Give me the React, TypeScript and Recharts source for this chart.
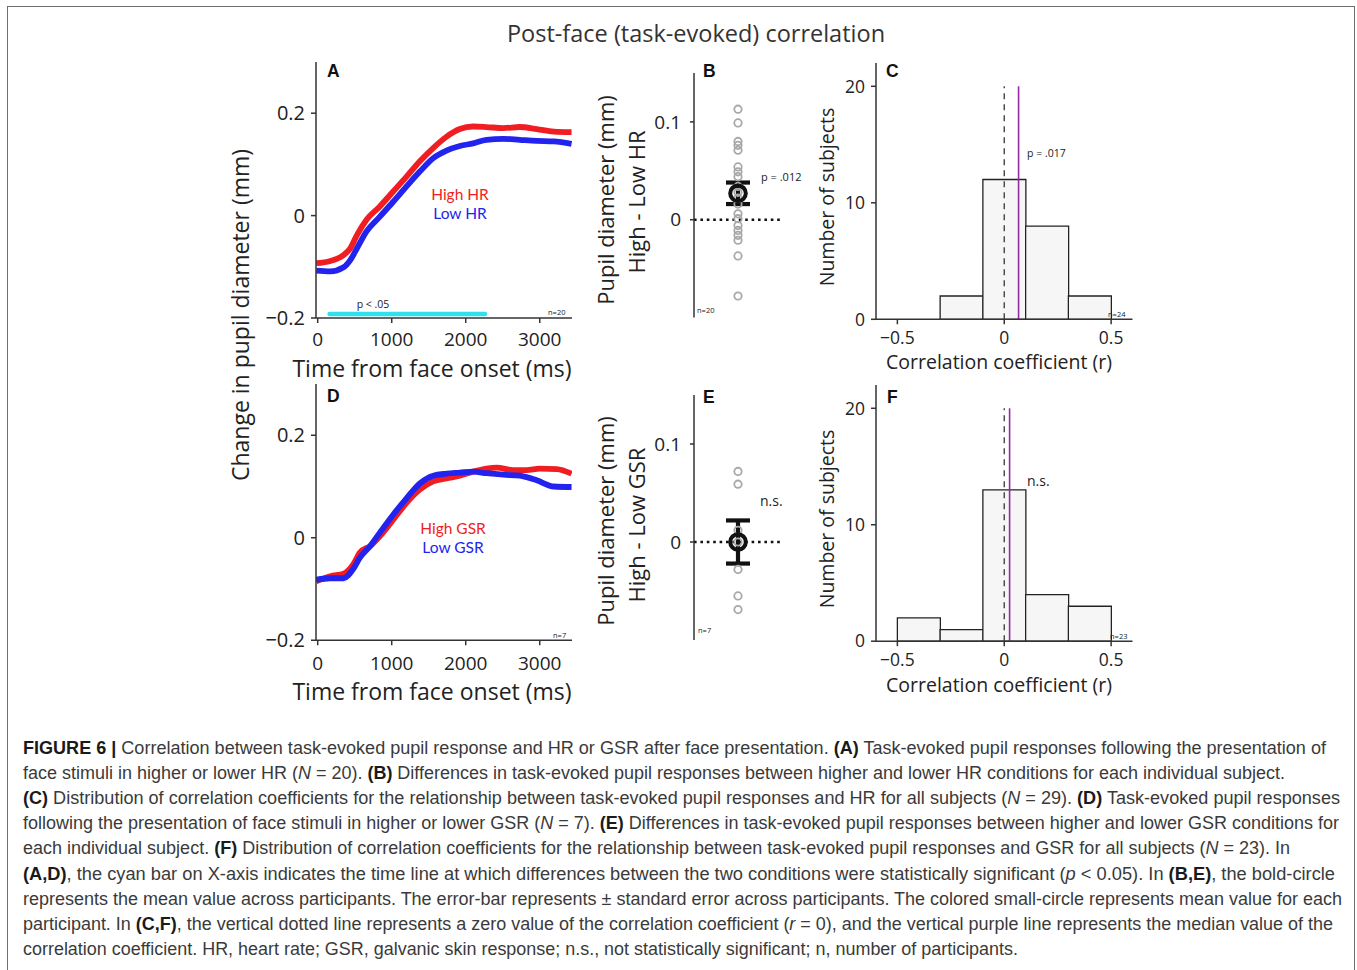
import React from 'react';
import {
  LineChart, Line, XAxis, YAxis, ReferenceLine,
  ScatterChart, Scatter, ErrorBar, BarChart, Bar,
} from 'recharts';

// ---------------- data ----------------
// Panel A: pupil change (mm) vs time (ms), HR split
const hrHighTime = [-20, 170, 350, 440, 530, 660, 840, 1020, 1200, 1380, 1560, 1740, 1920, 2100, 2280, 2510, 2730, 2960, 3190, 3430];
const hrHighValue = [-0.093, -0.0886, -0.077, -0.064, -0.038, -0.008, 0.018, 0.047, 0.076, 0.106, 0.132, 0.154, 0.169, 0.174, 0.173, 0.171, 0.173, 0.169, 0.164, 0.163];
const hrLowTime = [-20, 170, 350, 440, 530, 660, 840, 1020, 1200, 1380, 1560, 1740, 1920, 2100, 2280, 2510, 2730, 2960, 3190, 3430];
const hrLowValue = [-0.1075, -0.109, -0.101, -0.087, -0.064, -0.031, -0.002, 0.027, 0.057, 0.086, 0.112, 0.127, 0.136, 0.141, 0.148, 0.15, 0.148, 0.146, 0.145, 0.14];
const sigStart = 160;
const sigEnd = 2260;

// Panel D: GSR split
const gsrHighTime = [-20, 170, 350, 480, 570, 710, 840, 1020, 1200, 1380, 1560, 1740, 1920, 2100, 2280, 2420, 2640, 2820, 3000, 3230, 3430];
const gsrHighValue = [-0.085, -0.075, -0.07, -0.052, -0.029, -0.016, 0.003, 0.035, 0.068, 0.094, 0.11, 0.116, 0.121, 0.129, 0.135, 0.137, 0.132, 0.132, 0.135, 0.134, 0.125];
const gsrLowTime = [-20, 170, 350, 480, 570, 710, 840, 1020, 1200, 1380, 1560, 1740, 1920, 2100, 2280, 2510, 2730, 2960, 3190, 3430];
const gsrLowValue = [-0.082, -0.079, -0.079, -0.061, -0.039, -0.016, 0.01, 0.045, 0.077, 0.106, 0.121, 0.125, 0.127, 0.129, 0.126, 0.123, 0.121, 0.112, 0.1, 0.099];

const timeTicks = [0, 1000, 2000, 3000];
const pupilTicks = [-0.2, 0, 0.2];

// Panel B: individual differences (High - Low HR)
const hrDiffs = [0.113, 0.099, 0.08, 0.076, 0.071, 0.054, 0.049, 0.044, 0.034, 0.028, 0.022, 0.016, 0.006, 0.001, -0.006, -0.011, -0.016, -0.021, -0.037, -0.078];
const hrDiffMean = 0.027;
const hrDiffSe = 0.011;

// Panel E: individual differences (High - Low GSR)
const gsrDiffs = [0.072, 0.059, 0.012, 0.0, -0.028, -0.055, -0.069];
const gsrDiffMean = 0.0;
const gsrDiffSe = 0.022;
const diffTicks = [-0.1, 0, 0.1];

// Panels C / F: histograms of r
const binCenters = [-0.4, -0.2, 0, 0.2, 0.4];
const hrCounts = [0, 2, 12, 8, 2];
const gsrCounts = [2, 1, 13, 4, 3];
const hrMedianR = 0.067;
const gsrMedianR = 0.025;
const rTicks = [-0.5, 0, 0.5];
const countTicks = [0, 10, 20];

// ---------------- helpers ----------------
const FONT = '"Open Sans", "Noto Sans", sans-serif';
const LEG = 'Lato, "Open Sans", sans-serif';
const CAP = '"Liberation Sans", Arial, sans-serif';
const RED = '#f01e23';
const BLUE = '#2323f0';
const PURPLE = '#962aa6';
const AX = '#333';

const fmt = (v: number) => (v < 0 ? '\u2212' + String(Math.abs(v)) : String(v));
const axisStyle = { stroke: AX, strokeWidth: 1.5 };
const tickStyle = (size: number) => ({ fill: '#222', fontSize: size, fontFamily: FONT });

type Rect = { x: number; y: number; w: number; h: number };
function box(plot: Rect, yW: number, xH: number) {
  const m = { top: 10, right: 16, bottom: 6, left: 10 };
  return {
    style: { position: 'absolute' as const, left: plot.x - yW - m.left, top: plot.y - m.top },
    width: m.left + yW + plot.w + m.right,
    height: m.top + plot.h + xH + m.bottom,
    margin: m,
  };
}

const Txt = (p: {
  x: number; y: number; size: number; color?: string; weight?: number; family?: string;
  anchor?: 'start' | 'middle' | 'end'; rotate?: number; children: React.ReactNode;
}) => {
  const tx = p.anchor === 'start' ? '0' : p.anchor === 'end' ? '-100%' : '-50%';
  return (
    <div
      style={{
        position: 'absolute', left: p.x, top: p.y,
        transform: `translate(${tx},-50%)${p.rotate ? ` rotate(${p.rotate}deg)` : ''}`,
        fontSize: p.size, color: p.color || '#222', fontWeight: p.weight || 400,
        fontFamily: p.family || FONT, whiteSpace: 'nowrap', lineHeight: 0.9,
      }}
    >
      {p.children}
    </div>
  );
};

const toSeries = (t: number[], v: number[]) => t.map((tt, i) => ({ t: tt, v: v[i] }));

function TimePanel(props: {
  plot: Rect; high: { t: number; v: number }[]; low: { t: number; v: number }[];
  sig?: boolean; tickMargin: number;
}) {
  const b = box(props.plot, 60, 40);
  return (
    <div style={b.style}>
      <LineChart width={b.width} height={b.height} margin={b.margin}>
        <XAxis type="number" dataKey="t" domain={[-23, 3436]} ticks={timeTicks} allowDataOverflow
          height={40} tickSize={5} tickMargin={props.tickMargin} axisLine={axisStyle} tickLine={axisStyle}
          tick={tickStyle(19)} tickFormatter={fmt} />
        <YAxis type="number" domain={[-0.2, 0.3]} ticks={pupilTicks} allowDataOverflow width={60}
          tickSize={5} tickMargin={6} axisLine={axisStyle} tickLine={axisStyle}
          tick={tickStyle(20)} tickFormatter={fmt} />
        {props.sig && (
          <ReferenceLine segment={[{ x: sigStart, y: -0.192 }, { x: sigEnd, y: -0.192 }]}
            stroke="#2de1ef" strokeWidth={4.5} strokeLinecap="round" />
        )}
        <Line data={props.high} dataKey="v" type="monotone" stroke={RED} strokeWidth={5.8}
          dot={false} isAnimationActive={false} />
        <Line data={props.low} dataKey="v" type="monotone" stroke={BLUE} strokeWidth={5.8}
          dot={false} isAnimationActive={false} />
      </LineChart>
    </div>
  );
}

function DiffPanel(props: { plot: Rect; diffs: number[]; mean: number; se: number }) {
  const b = box(props.plot, 60, 0);
  const pts = props.diffs.map((d) => ({ x: 0.5, y: d }));
  const meanPt = [{ x: 0.5, y: props.mean, se: props.se }];
  return (
    <div style={b.style}>
      <ScatterChart width={b.width} height={b.height} margin={b.margin}>
        <XAxis type="number" dataKey="x" domain={[0, 1]} hide />
        <YAxis type="number" dataKey="y" domain={[-0.1, 0.15]} ticks={diffTicks} width={60}
          tickSize={4} tickMargin={9} axisLine={axisStyle} tickLine={axisStyle}
          tick={tickStyle(19)} tickFormatter={fmt} />
        <ReferenceLine y={0} stroke="#111" strokeWidth={2.6} strokeDasharray="2.6 3.8" />
        <Scatter data={pts} isAnimationActive={false}
          shape={(s: any) => (
            <circle cx={s.cx} cy={s.cy} r={3.7} fill="none" stroke="#a8a8a8" strokeWidth={1.8} />
          )} />
        <Scatter data={meanPt} isAnimationActive={false}
          shape={(s: any) => (
            <circle cx={s.cx} cy={s.cy} r={7.8} fill="none" stroke="#111" strokeWidth={4} />
          )}>
          <ErrorBar dataKey="se" direction="y" width={12} strokeWidth={4.2} stroke="#111" />
        </Scatter>
      </ScatterChart>
    </div>
  );
}

function HistPanel(props: { plot: Rect; counts: number[]; median: number }) {
  const b = box(props.plot, 50, 30);
  const data = binCenters.map((c, i) => ({ c, n: props.counts[i] }));
  return (
    <div style={b.style}>
      <BarChart width={b.width} height={b.height} margin={b.margin} data={data}
        barCategoryGap={0} barGap={0}>
        <XAxis type="number" dataKey="c" domain={[-0.6, 0.6]} ticks={rTicks} allowDataOverflow
          height={30} tickSize={5} tickMargin={7} axisLine={axisStyle} tickLine={axisStyle}
          tick={tickStyle(17.5)} tickFormatter={fmt} />
        <YAxis type="number" domain={[0, 22]} ticks={countTicks} width={50}
          tickSize={5} tickMargin={6} axisLine={axisStyle} tickLine={axisStyle}
          tick={tickStyle(17.5)} />
        <Bar dataKey="n" fill="#f6f6f6" stroke="#222" strokeWidth={1.3} isAnimationActive={false} />
        <ReferenceLine segment={[{ x: 0, y: 0 }, { x: 0, y: 20 }]} stroke="#444"
          strokeWidth={1.4} strokeDasharray="6 5" />
        <ReferenceLine segment={[{ x: props.median, y: 0 }, { x: props.median, y: 20 }]}
          stroke={PURPLE} strokeWidth={1.6} />
      </BarChart>
    </div>
  );
}

// ---------------- caption ----------------
type Seg = [string, string];
const captionLines: Seg[][] = [
  [['b', 'FIGURE 6 |'], ['n', ' Correlation between task-evoked pupil response and HR or GSR after face presentation. '], ['b', '(A)'], ['n', ' Task-evoked pupil responses following the presentation of']],
  [['n', 'face stimuli in higher or lower HR ('], ['i', 'N'], ['n', ' = 20). '], ['b', '(B)'], ['n', ' Differences in task-evoked pupil responses between higher and lower HR conditions for each individual subject.']],
  [['b', '(C)'], ['n', ' Distribution of correlation coefficients for the relationship between task-evoked pupil responses and HR for all subjects ('], ['i', 'N'], ['n', ' = 29). '], ['b', '(D)'], ['n', ' Task-evoked pupil responses']],
  [['n', 'following the presentation of face stimuli in higher or lower GSR ('], ['i', 'N'], ['n', ' = 7). '], ['b', '(E)'], ['n', ' Differences in task-evoked pupil responses between higher and lower GSR conditions for']],
  [['n', 'each individual subject. '], ['b', '(F)'], ['n', ' Distribution of correlation coefficients for the relationship between task-evoked pupil responses and GSR for all subjects ('], ['i', 'N'], ['n', ' = 23). In']],
  [['b', '(A,D)'], ['n', ', the cyan bar on X-axis indicates the time line at which differences between the two conditions were statistically significant ('], ['i', 'p'], ['n', ' < 0.05). In '], ['b', '(B,E)'], ['n', ', the bold-circle']],
  [['n', 'represents the mean value across participants. The error-bar represents \u00b1 standard error across participants. The colored small-circle represents mean value for each']],
  [['n', 'participant. In '], ['b', '(C,F)'], ['n', ', the vertical dotted line represents a zero value of the correlation coefficient ('], ['i', 'r'], ['n', ' = 0), and the vertical purple line represents the median value of the']],
  [['n', 'correlation coefficient. HR, heart rate; GSR, galvanic skin response; n.s., not statistically significant; n, number of participants.']],
];
const captionEnds = [1326, 1285, 1340, 1339, 1290, 1335, 1342, 1333, 1018];

function Caption() {
  const x0 = 23;
  return (
    <svg width={1357} height={250} style={{ position: 'absolute', left: 0, top: 720 }}>
      {captionLines.map((line, i) => (
        <text key={i} x={x0} y={33.5 + i * 25.2} fontSize={17.5} fontFamily={CAP} fill="#3a3a3a"
          textLength={captionEnds[i] - x0} lengthAdjust="spacingAndGlyphs" style={{ whiteSpace: 'pre' }}>
          {line.map((s, j) => (
            <tspan key={j} fontWeight={s[0] === 'b' ? 700 : 400}
              fontStyle={s[0] === 'i' ? 'italic' : 'normal'} fill={s[0] === 'b' ? '#1a1a1a' : '#3a3a3a'}>
              {s[1]}
            </tspan>
          ))}
        </text>
      ))}
    </svg>
  );
}

// ---------------- app ----------------
export default function App() {
  const PA = { x: 316, y: 62, w: 256, h: 256 };
  const PD = { x: 316, y: 383.75, w: 256, h: 256.25 };
  const PB = { x: 694, y: 73, w: 88, h: 244.5 };
  const PE = { x: 694, y: 395, w: 88, h: 245 };
  const PC = { x: 876, y: 63, w: 256.5, h: 256.3 };
  const PF = { x: 876, y: 384.5, w: 256.5, h: 256.2 };
  const panelLabel = { size: 17.5, weight: 700, family: CAP, color: '#111' };
  return (
    <div style={{ position: 'absolute', left: 0, top: 0, width: 1357, height: 970, background: '#fff', overflow: 'hidden', fontFamily: FONT }}>
      <div style={{ position: 'absolute', left: 7, top: 6, width: 1346, height: 1000, border: '1.5px solid #6f6f6f', borderBottom: 'none' }} />
      <Txt x={696} y={34} size={23.5} color="#333">Post-face (task-evoked) correlation</Txt>

      <TimePanel plot={PA} high={toSeries(hrHighTime, hrHighValue)} low={toSeries(hrLowTime, hrLowValue)} sig tickMargin={10} />
      <TimePanel plot={PD} high={toSeries(gsrHighTime, gsrHighValue)} low={toSeries(gsrLowTime, gsrLowValue)} tickMargin={11} />
      <DiffPanel plot={PB} diffs={hrDiffs} mean={hrDiffMean} se={hrDiffSe} />
      <DiffPanel plot={PE} diffs={gsrDiffs} mean={gsrDiffMean} se={gsrDiffSe} />
      <HistPanel plot={PC} counts={hrCounts} median={hrMedianR} />
      <HistPanel plot={PF} counts={gsrCounts} median={gsrMedianR} />

      {/* panel letters */}
      <Txt x={327} y={72} anchor="start" {...panelLabel}>A</Txt>
      <Txt x={703} y={72} anchor="start" {...panelLabel}>B</Txt>
      <Txt x={886} y={72} anchor="start" {...panelLabel}>C</Txt>
      <Txt x={327} y={397} anchor="start" {...panelLabel}>D</Txt>
      <Txt x={703} y={398} anchor="start" {...panelLabel}>E</Txt>
      <Txt x={887} y={398} anchor="start" {...panelLabel}>F</Txt>

      {/* axis titles */}
      <Txt x={240} y={315} size={23} rotate={-90}>Change in pupil diameter (mm)</Txt>
      <Txt x={432} y={368} size={23}>Time from face onset (ms)</Txt>
      <Txt x={432} y={691} size={23}>Time from face onset (ms)</Txt>
      <Txt x={606} y={200} size={22} rotate={-90}>Pupil diameter (mm)</Txt>
      <Txt x={637} y={202} size={22} rotate={-90}>High - Low HR</Txt>
      <Txt x={606} y={521} size={22} rotate={-90}>Pupil diameter (mm)</Txt>
      <Txt x={637} y={525} size={22} rotate={-90}>High - Low GSR</Txt>
      <Txt x={827} y={197} size={19.5} rotate={-90}>Number of subjects</Txt>
      <Txt x={827} y={519} size={19.5} rotate={-90}>Number of subjects</Txt>
      <Txt x={999} y={362} size={19.5}>Correlation coefficient (r)</Txt>
      <Txt x={999} y={685} size={19.5}>Correlation coefficient (r)</Txt>

      {/* legends & annotations */}
      <Txt x={460} y={195} size={15.5} family={LEG} color={RED}>High HR</Txt>
      <Txt x={460} y={214} size={15.5} family={LEG} color={BLUE}>Low HR</Txt>
      <Txt x={453} y={528.5} size={15.5} family={LEG} color={RED}>High GSR</Txt>
      <Txt x={453} y={547.5} size={15.5} family={LEG} color={BLUE}>Low GSR</Txt>
      <Txt x={373} y={305} size={10.5}>p &lt; .05</Txt>
      <Txt x={548} y={312} size={7.5} anchor="start">n=20</Txt>
      <Txt x={553} y={635} size={7.5} anchor="start">n=7</Txt>
      <Txt x={697} y={310} size={7.5} anchor="start">n=20</Txt>
      <Txt x={698} y={630} size={7.5} anchor="start">n=7</Txt>
      <Txt x={761} y={177} size={11} anchor="start">p = .012</Txt>
      <Txt x={760} y={501} size={14} anchor="start">n.s.</Txt>
      <Txt x={1027} y={154} size={10.5} anchor="start">p = .017</Txt>
      <Txt x={1027} y={481} size={14} anchor="start">n.s.</Txt>
      <Txt x={1108} y={314} size={7.5} anchor="start">n=24</Txt>
      <Txt x={1110} y={636} size={7.5} anchor="start">n=23</Txt>

      <Caption />
    </div>
  );
}
